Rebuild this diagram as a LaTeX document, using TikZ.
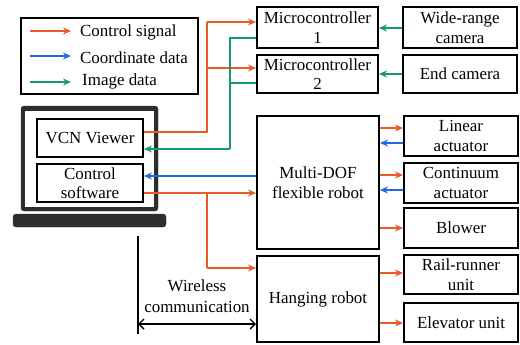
\documentclass[tikz,border=0pt]{standalone}
\usepackage{fontspec}
\setmainfont{Liberation Serif}
\usetikzlibrary{arrows.meta}
\definecolor{corange}{RGB}{232,92,38}
\definecolor{cblue}{RGB}{30,105,230}
\definecolor{cgreen}{RGB}{20,155,110}
\definecolor{cdark}{RGB}{45,45,45}
\tikzset{
  box/.style={draw=black,line width=2bp,rectangle,inner sep=0pt,align=center,font=\fontsize{17}{19.5}\selectfont},
  wire/.style={line width=2.4bp,-{Stealth[length=8bp,width=7bp]}},
  plain/.style={line width=2.4bp},
  ctl/.style={color=corange},
  crd/.style={color=cblue},
  img/.style={color=cgreen},
  lbl/.style={inner sep=0pt,anchor=west,font=\fontsize{17}{19.5}\selectfont},
}
\begin{document}
\begin{tikzpicture}[x=1bp,y=-1bp]
\useasboundingbox (0,0) rectangle (520,344);
% legend
\node[box,minimum width=177bp,minimum height=76bp] (legend) at (109.5,56) {};
\coordinate (l1a) at (30,31); \coordinate (l1b) at (71,31);
\coordinate (l2a) at (30,56); \coordinate (l2b) at (71,56);
\coordinate (l3a) at (30,82); \coordinate (l3b) at (71,82);
\draw[wire,ctl] (l1a) -- (l1b);
\draw[wire,crd] (l2a) -- (l2b);
\draw[wire,img] (l3a) -- (l3b);
\node[lbl] (t1) at (80,32) {Control signal};
\node[lbl] (t2) at (80,58) {Coordinate data};
\node[lbl] (t3) at (82,81) {Image data};
% laptop
\draw[fill=cdark,draw=cdark,rounded corners=3bp] (21,106) rectangle (158,211);
\fill[white] (25,111) rectangle (154,207);
\draw[fill=cdark,draw=cdark,rounded corners=3bp] (13,214) rectangle (166,227);
\node[box,fill=white,minimum width=106bp,minimum height=38bp] (vcn) at (90,138) {VCN Viewer};
\node[box,fill=white,minimum width=106bp,minimum height=38bp] (csw) at (90,183) {Control\\software};
% boxes
\node[box,minimum width=121bp,minimum height=41bp] (mc1) at (317.5,27.5) {Microcontroller\\1};
\node[box,minimum width=121bp,minimum height=38bp] (mc2) at (317.5,74) {Microcontroller\\2};
\node[box,minimum width=114bp,minimum height=41bp] (wide) at (460,27.5) {Wide-range\\camera};
\node[box,minimum width=114bp,minimum height=38bp] (endc) at (460,74) {End camera};
\node[box,minimum width=122bp,minimum height=133bp] (multi) at (318,182.5) {Multi-DOF\\flexible robot};
\node[box,minimum width=122bp,minimum height=86bp] (hang) at (318,299) {Hanging robot};
\node[box,minimum width=114bp,minimum height=40bp] (lin) at (461,136) {Linear\\actuator};
\node[box,minimum width=114bp,minimum height=40bp] (cont) at (461,183) {Continuum\\actuator};
\node[box,minimum width=114bp,minimum height=40bp] (blow) at (461,228) {Blower};
\node[box,minimum width=114bp,minimum height=39bp] (rail) at (461,274.5) {Rail-runner\\unit};
\node[box,minimum width=114bp,minimum height=39bp] (elev) at (461,322.5) {Elevator unit};
% cameras to microcontrollers
\draw[wire,img] (wide.west |- 0,28) -- (mc1.east |- 0,28);
\draw[wire,img] (endc.west |- 0,74) -- (mc2.east |- 0,74);
% VCN control signals
\draw[plain,ctl] (vcn.east |- 0,132) -- (207,132) -- (207,22);
\draw[wire,ctl] (207,22) -- (mc1.west |- 0,22);
\draw[wire,ctl] (207,68) -- (mc2.west |- 0,68);
% image data to VCN
\draw[plain,img] (mc1.west |- 0,38) -- (230,38) -- (230,149);
\draw[plain,img] (mc2.west |- 0,83) -- (230,83);
\draw[wire,img] (230,149) -- (vcn.east |- 0,149);
% control software
\draw[wire,crd] (multi.west |- 0,176) -- (csw.east |- 0,176);
\draw[wire,ctl] (csw.east |- 0,193) -- (multi.west |- 0,193);
\draw[plain,ctl] (207,193) -- (207,268);
\draw[wire,ctl] (207,268) -- (hang.west |- 0,268);
% right side
\draw[wire,ctl] (multi.east |- 0,128) -- (lin.west |- 0,128);
\draw[wire,crd] (lin.west |- 0,143) -- (multi.east |- 0,143);
\draw[wire,ctl] (multi.east |- 0,175) -- (cont.west |- 0,175);
\draw[wire,crd] (cont.west |- 0,190) -- (multi.east |- 0,190);
\draw[wire,ctl] (multi.east |- 0,228) -- (blow.west |- 0,228);
\draw[wire,ctl] (hang.east |- 0,273) -- (rail.west |- 0,273);
\draw[wire,ctl] (hang.east |- 0,323) -- (elev.west |- 0,323);
% wireless
\coordinate (wtop) at (138,236);
\coordinate (wbot) at (138,334);
\draw[line width=1.6bp] (wtop) -- (wbot);
\draw[line width=1.4bp,{Straight Barb[length=5bp,width=10bp]}-{Straight Barb[length=5bp,width=10bp]}] (138,324) -- (hang.west |- 0,324);
\node[inner sep=0pt,align=center,font=\fontsize{17}{21}\selectfont] (wl) at (197,296) {Wireless\\communication};
\end{tikzpicture}
\end{document}
